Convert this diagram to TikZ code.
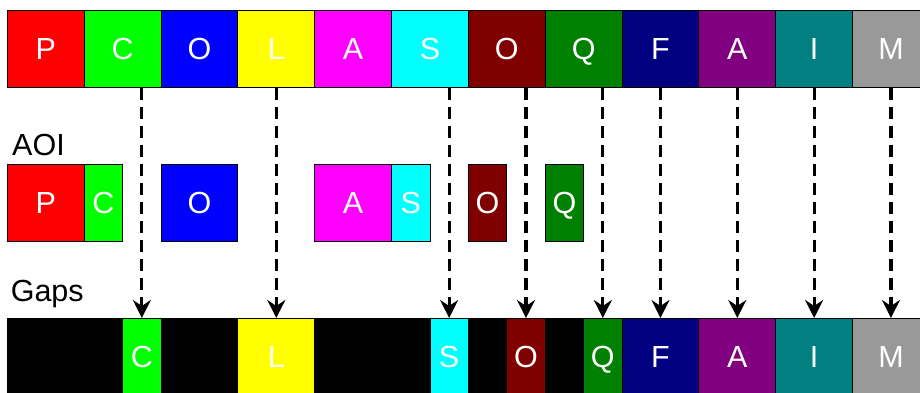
\documentclass[tikz,border=0pt]{standalone}
\usepackage{fontspec}
\setmainfont{Liberation Sans}
\usetikzlibrary{arrows.meta}
\definecolor{cP}{HTML}{FF0000}
\definecolor{cC}{HTML}{00FF00}
\definecolor{cO}{HTML}{0000FF}
\definecolor{cL}{HTML}{FFFF00}
\definecolor{cA}{HTML}{FF00FF}
\definecolor{cS}{HTML}{00FFFF}
\definecolor{cOO}{HTML}{800000}
\definecolor{cQ}{HTML}{008000}
\definecolor{cF}{HTML}{000080}
\definecolor{cAA}{HTML}{800080}
\definecolor{cI}{HTML}{008080}
\definecolor{cM}{HTML}{999999}
\begin{document}
\begin{tikzpicture}[x=1pt,y=-1pt,
  cell/.style={draw=black, line width=0.8pt, text=white, inner sep=0pt, anchor=north west,
    minimum height=77pt, text height=21.5pt, text depth=0pt, font=\fontsize{30.5}{36}\selectfont},
  full/.style={cell, minimum width=76.83pt},
  half/.style={cell, minimum width=38.4pt},
  lbl/.style={anchor=base west, inner sep=0pt, font=\fontsize{30.5}{36}\selectfont},
  arr/.style={line width=3.2pt, dash pattern=on 12pt off 7pt,
    -{Stealth[length=18pt,width=18pt,inset=6pt]}}]
\path[use as bounding box, clip] (0,0) rectangle (920,392);
% top row
\node[full, fill=cP]  (t1)  at (7,10)      {P};
\node[full, fill=cC]  (t2)  at (83.83,10)  {C};
\node[full, fill=cO]  (t3)  at (160.66,10) {O};
\node[full, fill=cL]  (t4)  at (237.49,10) {L};
\node[full, fill=cA]  (t5)  at (314.32,10) {A};
\node[full, fill=cS]  (t6)  at (391.15,10) {S};
\node[full, fill=cOO] (t7)  at (467.98,10) {O};
\node[full, fill=cQ]  (t8)  at (544.81,10) {Q};
\node[full, fill=cF]  (t9)  at (621.64,10) {F};
\node[full, fill=cAA] (t10) at (698.47,10) {A};
\node[full, fill=cI]  (t11) at (775.3,10)  {I};
\node[full, fill=cM]  (t12) at (852.13,10) {M};
% AOI row
\node[lbl] (aoi) at (12,155) {AOI};
\node[full, fill=cP]  (a1) at (7,164)      {P};
\node[half, fill=cC]  (a2) at (83.83,164)  {C};
\node[full, fill=cO]  (a3) at (160.66,164) {O};
\node[full, fill=cA]  (a5) at (314.32,164) {A};
\node[half, fill=cS]  (a6) at (391.15,164) {S};
\node[half, fill=cOO] (a7) at (467.98,164) {O};
\node[half, fill=cQ]  (a8) at (544.81,164) {Q};
% Gaps row
\node[lbl] (gaps) at (10.6,301) {Gaps};
\node[full, fill=black] (g1) at (7,318)      {};
\node[half, fill=black] (g2) at (83.83,318)  {};
\node[half, fill=cC]    (b2) at (122.23,318) {C};
\node[full, fill=black] (g3) at (160.66,318) {};
\node[full, fill=cL]    (b4) at (237.49,318) {L};
\node[full, fill=black] (g5) at (314.32,318) {};
\node[half, fill=black] (g6) at (391.15,318) {};
\node[half, fill=cS]    (b6) at (429.55,318) {S};
\node[half, fill=black] (g7) at (467.98,318) {};
\node[half, fill=cOO]   (b7) at (506.38,318) {O};
\node[half, fill=black] (g8) at (544.81,318) {};
\node[half, fill=cQ]    (b8) at (583.21,318) {Q};
\node[full, fill=cF]    (b9) at (621.64,318) {F};
\node[full, fill=cAA]   (b10) at (698.47,318) {A};
\node[full, fill=cI]    (b11) at (775.3,318)  {I};
\node[full, fill=cM]    (b12) at (852.13,318) {M};
% arrows
\foreach \i in {2,4,6,7,8,9,10,11,12}
  \draw[arr] (b\i.north |- t\i.south) -- (b\i.north);
\end{tikzpicture}
\end{document}
